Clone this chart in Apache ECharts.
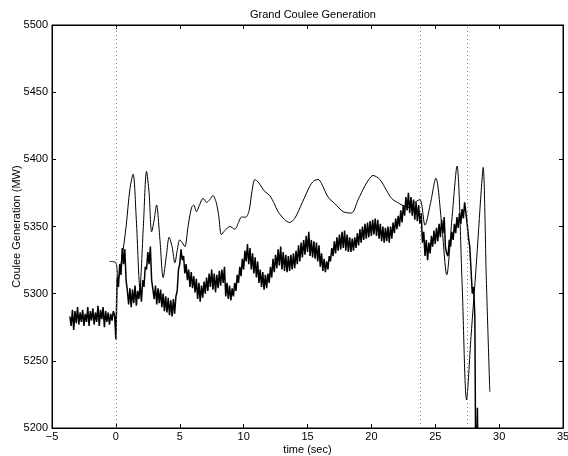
<!DOCTYPE html>
<html>
<head>
<meta charset="utf-8">
<script src="https://cdn.jsdelivr.net/npm/echarts@6/dist/echarts.min.js"></script>
<style>
html,body{margin:0;padding:0;background:#fff;}
#c{width:568px;height:456px;}
</style>
</head>
<body>
<div id="c"></div>
<script>
// ---- Data ----
const titleText = "Grand Coulee Generation";
const xLabel = "time (sec)";
const yLabel = "Coulee Generation (MW)";
const xTicks = [-5, 0, 5, 10, 15, 20, 25, 30, 35];
const yTicks = [5200, 5250, 5300, 5350, 5400, 5450, 5500];
const eventTimes = [0, 23.8, 27.5];

// simulated (smooth) response
const simT = [-0.5, 0, 0.15, 0.5, 0.8, 1.1, 1.35, 1.6, 1.88, 2.15, 2.4, 2.6, 2.8, 3.0, 3.18, 3.45, 3.7, 3.95, 4.17, 4.4, 4.62, 4.8, 5.0, 5.2, 5.4, 5.65, 5.92, 6.1, 6.3, 6.55, 6.82, 7.1, 7.35, 7.6, 7.85, 8.05, 8.26, 8.53, 8.92, 9.31, 9.6, 9.83, 10.17, 10.43, 10.65, 10.88, 11.14, 11.66, 12.05, 12.4, 12.7, 13.22, 13.6, 14.0, 14.6, 15.18, 15.5, 15.83, 16.1, 16.6, 17.14, 17.8, 18.44, 18.96, 19.48, 19.8, 20.13, 20.66, 21.18, 21.57, 22.2, 22.6, 23.0, 23.4, 23.8, 24.2, 24.6, 25.05, 25.5, 25.9, 26.3, 26.7, 27.1, 27.45, 27.8, 28.2, 28.6, 28.75, 29.0, 29.27];
const simV = [5324, 5323, 5310, 5328, 5350, 5378, 5389, 5355, 5305, 5350, 5391, 5375, 5346, 5355, 5366, 5340, 5312, 5328, 5342, 5335, 5323, 5332, 5340, 5338, 5335, 5350, 5364, 5366, 5361, 5366, 5371, 5368, 5370, 5373, 5368, 5358, 5344, 5347, 5350, 5348, 5353, 5357, 5357, 5362, 5376, 5385, 5383, 5376, 5373, 5367, 5361, 5355, 5353, 5356, 5368, 5380, 5384, 5385, 5382, 5372, 5367, 5361, 5360, 5370, 5380, 5385, 5388, 5385, 5377, 5371, 5367, 5365, 5364, 5368, 5370, 5351, 5366, 5386, 5352, 5314, 5355, 5395, 5308, 5221, 5268, 5320, 5377, 5394, 5310, 5227];

// measured (noisy) response, sampled every 0.1 s from -3.6 s
const measT0 = -3.6;
const measStep = 0.1;
const measured = [
 5283, 5276, 5288, 5273, 5287, 5278, 5290, 5277, 5286, 5279,
 5288, 5276, 5285, 5279, 5290, 5276, 5287, 5280, 5289, 5277,
 5286, 5279, 5291, 5276, 5288, 5281, 5290, 5275, 5287, 5279,
 5286, 5277, 5285, 5280, 5287, 5284, 5266, 5312, 5305, 5322,
 5314, 5334, 5322, 5333, 5310, 5302, 5292, 5304, 5290, 5303,
 5293, 5306, 5291, 5302, 5296, 5307, 5294, 5310, 5305, 5320,
 5318, 5331, 5322, 5335, 5310, 5303, 5296, 5306, 5292, 5304,
 5293, 5303, 5290, 5300, 5287, 5298, 5286, 5297, 5284, 5295,
 5283, 5296, 5285, 5298, 5302, 5318, 5322, 5333, 5325, 5328,
 5315, 5322, 5310, 5318, 5305, 5316, 5304, 5313, 5301, 5311,
 5296, 5308, 5294, 5306, 5297, 5309, 5300, 5312, 5302, 5315,
 5305, 5318, 5303, 5315, 5301, 5314, 5304, 5317, 5306, 5318,
 5308, 5320, 5298, 5308, 5296, 5306, 5295, 5304, 5298, 5308,
 5302, 5314, 5308, 5320, 5313, 5326, 5318, 5332, 5324, 5337,
 5322, 5334, 5318, 5330, 5315, 5327, 5312, 5324, 5308, 5318,
 5305, 5316, 5303, 5314, 5304, 5315, 5308, 5320, 5312, 5326,
 5316, 5329, 5319, 5333, 5321, 5335, 5318, 5331, 5317, 5329,
 5316, 5328, 5317, 5329, 5318, 5330, 5319, 5332, 5322, 5336,
 5324, 5338, 5327, 5340, 5329, 5343, 5331, 5346, 5328, 5340,
 5327, 5339, 5326, 5338, 5324, 5336, 5320, 5330, 5317, 5326,
 5316, 5324, 5318, 5328, 5324, 5334, 5328, 5339, 5330, 5342,
 5332, 5344, 5333, 5346, 5334, 5347, 5332, 5344, 5331, 5342,
 5331, 5341, 5332, 5342, 5334, 5345, 5336, 5348, 5338, 5350,
 5340, 5352, 5341, 5353, 5342, 5354, 5343, 5355, 5344, 5356,
 5343, 5355, 5341, 5352, 5339, 5350, 5338, 5349, 5339, 5350,
 5338, 5350, 5341, 5353, 5345, 5356, 5348, 5358, 5350, 5362,
 5353, 5366, 5358, 5372, 5362, 5375, 5360, 5372, 5358, 5370,
 5355, 5368, 5354, 5366, 5352, 5360, 5338, 5346, 5328, 5340,
 5325, 5338, 5330, 5343, 5335, 5347, 5337, 5349, 5339, 5352,
 5342, 5355, 5345, 5357, 5334, 5330, 5328, 5340, 5335, 5346,
 5340, 5352, 5345, 5357, 5349, 5360, 5352, 5363, 5356, 5368,
 5360, 5352, 5342, 5335, 5318, 5300, 5305, 5283
];
// final collapse of the measured trace (goes off the bottom of the axes)
const tailT = [28.18, 28.3, 28.38];
const tailV = [5150, 5215, 5140];

// ---- Build ----
const simData = simT.map((t, i) => [t, simV[i]]);
const measData = measured.map((v, i) => [+(measT0 + i * measStep).toFixed(2), v])
  .concat(tailT.map((t, i) => [t, tailV[i]]));

const FONT = '"Liberation Sans", Arial, Helvetica, sans-serif';
const minus = v => String(v).replace('-', '\u2212');
const plain = v => String(v);

const chart = echarts.init(document.getElementById('c'), null, {renderer: 'canvas'});
const gridPos = {left: 52, right: 5, top: 25, bottom: 28};
const tick = {show: true, inside: true, length: 4, lineStyle: {color: '#000', width: 1}};
const line = {show: true, onZero: false, lineStyle: {color: '#000', width: 1}};
chart.setOption({
  animation: false,
  backgroundColor: '#fff',
  title: {
    text: titleText, left: 308, top: 4, textAlign: 'center',
    textStyle: {fontFamily: FONT, fontSize: 11, fontWeight: 'normal', color: '#000'}
  },
  grid: Object.assign({show: true, borderColor: '#000', borderWidth: 1, backgroundColor: 'transparent',
    containLabel: false, outerBoundsMode: 'none'}, gridPos),
  xAxis: [{
    type: 'value', min: xTicks[0], max: xTicks[xTicks.length - 1], interval: 5,
    name: xLabel, nameLocation: 'middle', nameGap: 16, nameMoveOverlap: false,
    nameTextStyle: {fontFamily: FONT, fontSize: 11, color: '#000'},
    axisLine: line, axisTick: tick,
    axisLabel: {fontFamily: FONT, fontSize: 11, color: '#000', margin: 3, formatter: minus},
    splitLine: {show: false}
  }, {
    type: 'value', position: 'top', min: xTicks[0], max: xTicks[xTicks.length - 1], interval: 5,
    axisLine: line, axisTick: tick,
    axisLabel: {show: false}, splitLine: {show: false}
  }],
  yAxis: [{
    type: 'value', min: yTicks[0], max: yTicks[yTicks.length - 1], interval: 50,
    name: yLabel, nameLocation: 'middle', nameGap: 30, nameRotate: 90, nameMoveOverlap: false,
    nameTextStyle: {fontFamily: FONT, fontSize: 11, color: '#000'},
    axisLine: line, axisTick: tick,
    axisLabel: {fontFamily: FONT, fontSize: 11, color: '#000', margin: 4, formatter: plain},
    splitLine: {show: false}
  }, {
    type: 'value', position: 'right', min: yTicks[0], max: yTicks[yTicks.length - 1], interval: 50,
    axisLine: line, axisTick: tick,
    axisLabel: {show: false}, splitLine: {show: false}
  }],
  series: [{
    name: 'events', type: 'line', data: [], silent: true,
    markLine: {
      silent: true, symbol: ['none', 'none'], label: {show: false},
      lineStyle: {color: '#777', width: 1, type: [1, 3]},
      data: eventTimes.map(t => ({xAxis: t}))
    }
  }, {
    name: 'simulated', type: 'line', data: simData, smooth: 0.3, showSymbol: false,
    lineStyle: {color: '#000', width: 1}, clip: true, silent: true
  }, {
    name: 'measured', type: 'line', data: measData, showSymbol: false,
    lineStyle: {color: '#000', width: 1.5}, clip: true, silent: true
  }]
});
</script>
</body>
</html>
